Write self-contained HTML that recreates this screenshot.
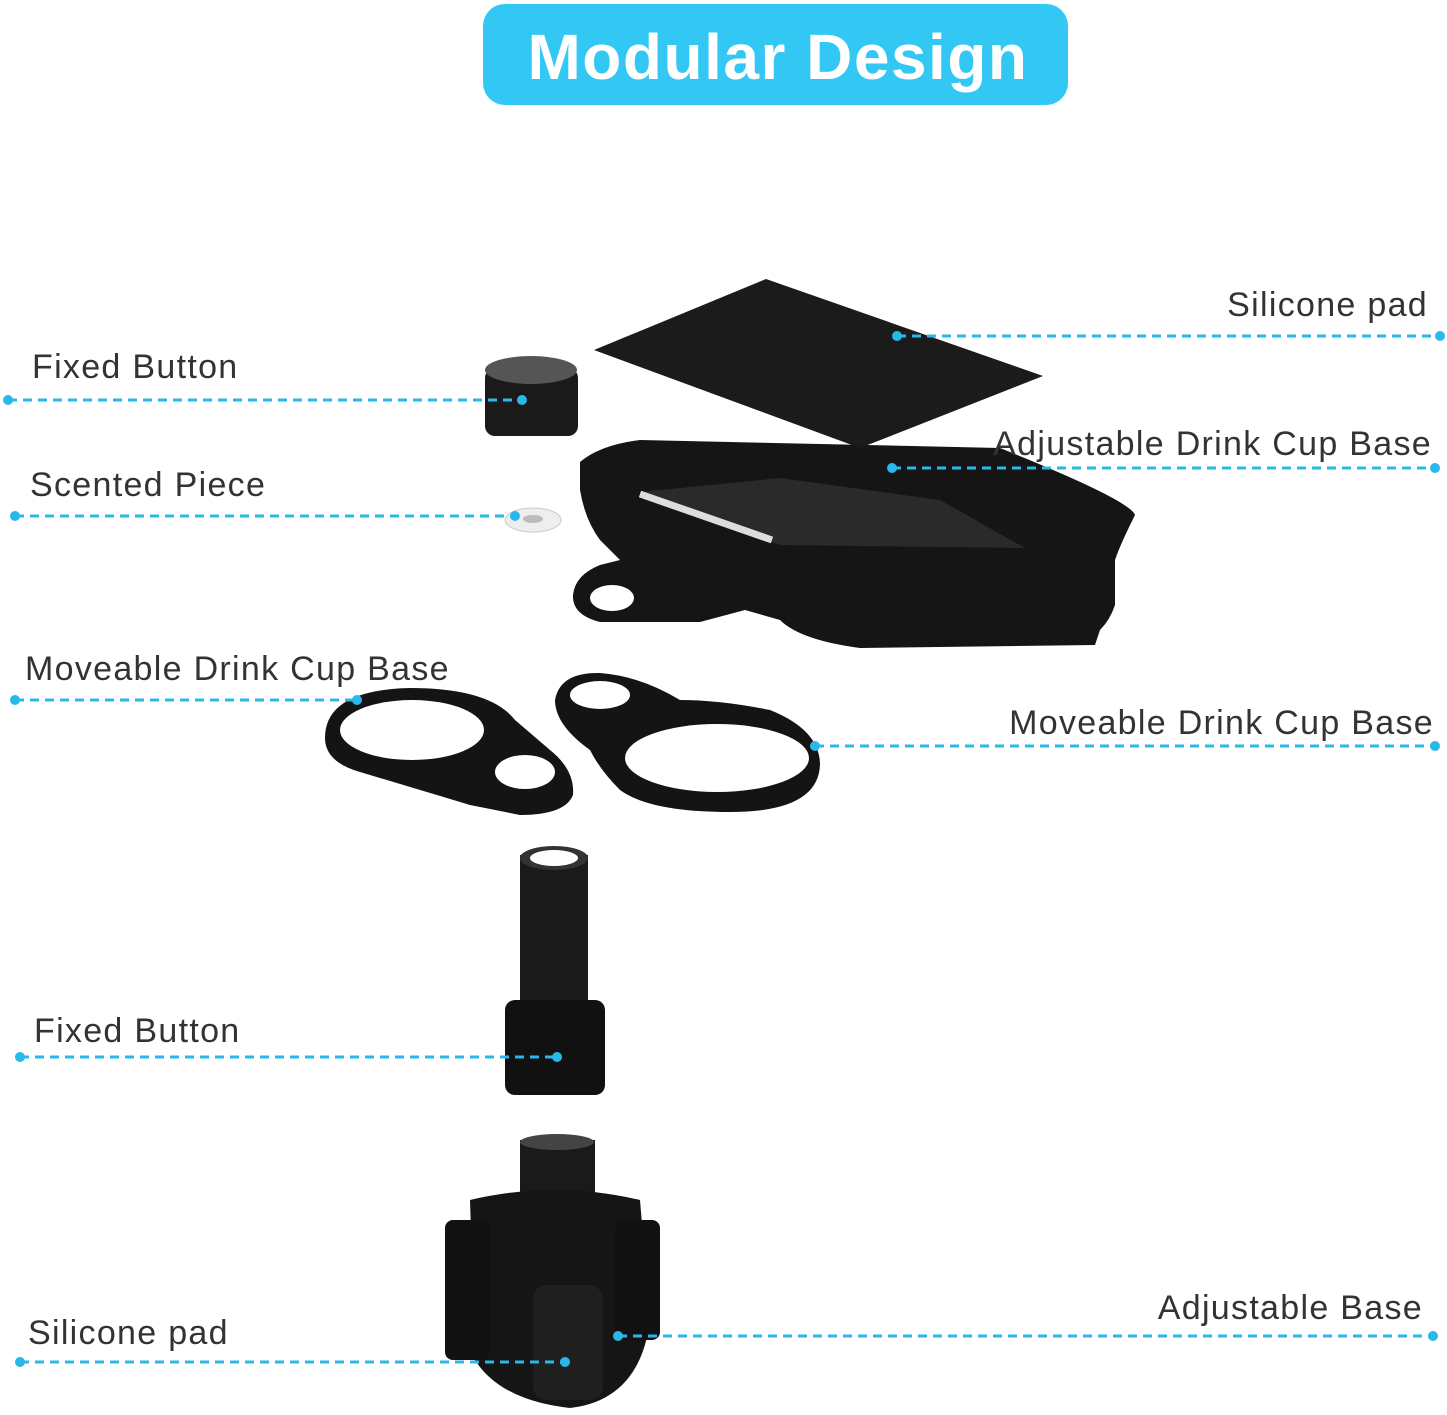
<!DOCTYPE html>
<html><head><meta charset="utf-8"><style>
body{margin:0;background:#fff;}
svg{display:block}
text{font-family:"Liberation Sans",sans-serif;fill:#333;}
</style></head><body>
<svg width="1447" height="1415" viewBox="0 0 1447 1415" xmlns="http://www.w3.org/2000/svg">
<rect x="483" y="4" width="585" height="101" rx="22" fill="#33c7f4"/>
<text x="778" y="79" text-anchor="middle" font-size="64" font-weight="bold" letter-spacing="1.5" style="fill:#fff">Modular Design</text>

<!-- tray -->
<path d="M580,462 Q600,445 640,440 L1000,448 Q1130,500 1135,515 Q1120,545 1115,560 L1115,605 Q1110,620 1100,630 L1095,645 L860,648 Q800,640 780,620 L745,610 L700,622 L600,622 Q572,615 573,595 Q575,575 600,565 L620,560 L600,540 Q585,520 580,490 Z" fill="#151515"/>
<polygon points="640,492 780,545 1025,548 940,500 780,478" fill="#2a2a2a"/>
<line x1="640" y1="494" x2="772" y2="540" stroke="#ddd" stroke-width="7"/>
<ellipse cx="612" cy="598" rx="22" ry="13" fill="#fff"/>
<!-- pad -->
<polygon points="594,350 766,279 1043,376 860,448" fill="#1b1b1b"/>
<!-- fixed button -->
<rect x="485" y="368" width="93" height="68" rx="10" fill="#1a1a1a"/>
<ellipse cx="531" cy="370" rx="46" ry="14" fill="#555"/>
<!-- scented -->
<ellipse cx="533" cy="520" rx="28" ry="12" fill="#eee" stroke="#ccc"/>
<ellipse cx="533" cy="519" rx="10" ry="4" fill="#bbb"/>
<!-- left ring -->
<path d="M325,738 Q325,690 410,688 Q490,688 515,720 L550,750 Q575,770 573,795 Q565,815 520,815 L470,805 Q420,790 360,772 Q325,762 325,738 Z" fill="#141414"/>
<ellipse cx="412" cy="730" rx="72" ry="30" fill="#fff"/>
<ellipse cx="525" cy="772" rx="30" ry="17" fill="#fff"/>
<!-- right ring -->
<path d="M555,700 Q560,672 600,673 Q640,676 680,700 Q720,700 770,710 Q820,730 820,765 Q818,812 730,812 Q650,812 620,790 Q600,770 590,750 Q555,725 555,700 Z" fill="#141414"/>
<ellipse cx="717" cy="758" rx="92" ry="34" fill="#fff"/>
<ellipse cx="600" cy="695" rx="30" ry="14" fill="#fff"/>
<!-- tube -->
<rect x="520" y="855" width="68" height="150" fill="#1a1a1a"/>
<ellipse cx="554" cy="858" rx="34" ry="12" fill="#333"/>
<ellipse cx="554" cy="858" rx="24" ry="8" fill="#fff"/>
<rect x="505" y="1000" width="100" height="95" rx="10" fill="#111"/>
<!-- base -->
<rect x="520" y="1140" width="75" height="60" fill="#1a1a1a"/>
<ellipse cx="557" cy="1142" rx="37" ry="8" fill="#444"/>
<path d="M470,1200 Q555,1180 640,1200 L650,1320 Q640,1400 570,1408 Q500,1400 475,1360 Z" fill="#151515"/>
<rect x="445" y="1220" width="45" height="140" rx="8" fill="#111"/>
<rect x="615" y="1220" width="45" height="120" rx="8" fill="#111"/>
<rect x="533" y="1285" width="70" height="115" rx="14" fill="#1f1f1f"/>

<g stroke="#29b8ea" stroke-width="3" stroke-dasharray="9,6" fill="none">
<line x1="897" y1="336" x2="1440" y2="336"/>
<line x1="8" y1="400" x2="522" y2="400"/>
<line x1="892" y1="468" x2="1435" y2="468"/>
<line x1="15" y1="516" x2="515" y2="516"/>
<line x1="15" y1="700" x2="357" y2="700"/>
<line x1="815" y1="746" x2="1435" y2="746"/>
<line x1="20" y1="1057" x2="557" y2="1057"/>
<line x1="618" y1="1336" x2="1433" y2="1336"/>
<line x1="20" y1="1362" x2="565" y2="1362"/>
</g>
<g fill="#29b8ea">
<circle cx="897" cy="336" r="5"/><circle cx="1440" cy="336" r="5"/>
<circle cx="8" cy="400" r="5"/><circle cx="522" cy="400" r="5"/>
<circle cx="892" cy="468" r="5"/><circle cx="1435" cy="468" r="5"/>
<circle cx="15" cy="516" r="5"/><circle cx="515" cy="516" r="5"/>
<circle cx="15" cy="700" r="5"/><circle cx="357" cy="700" r="5"/>
<circle cx="815" cy="746" r="5"/><circle cx="1435" cy="746" r="5"/>
<circle cx="20" cy="1057" r="5"/><circle cx="557" cy="1057" r="5"/>
<circle cx="618" cy="1336" r="5"/><circle cx="1433" cy="1336" r="5"/>
<circle cx="20" cy="1362" r="5"/><circle cx="565" cy="1362" r="5"/>
</g>
<g font-size="34" letter-spacing="1.3">
<text x="1428" y="316" text-anchor="end">Silicone pad</text>
<text x="32" y="378">Fixed Button</text>
<text x="1432" y="455" text-anchor="end">Adjustable Drink Cup Base</text>
<text x="30" y="496">Scented Piece</text>
<text x="25" y="680">Moveable Drink Cup Base</text>
<text x="1434" y="734" text-anchor="end">Moveable Drink Cup Base</text>
<text x="34" y="1042">Fixed Button</text>
<text x="1423" y="1319" text-anchor="end">Adjustable Base</text>
<text x="28" y="1344">Silicone pad</text>
</g>
</svg>
</body></html>
